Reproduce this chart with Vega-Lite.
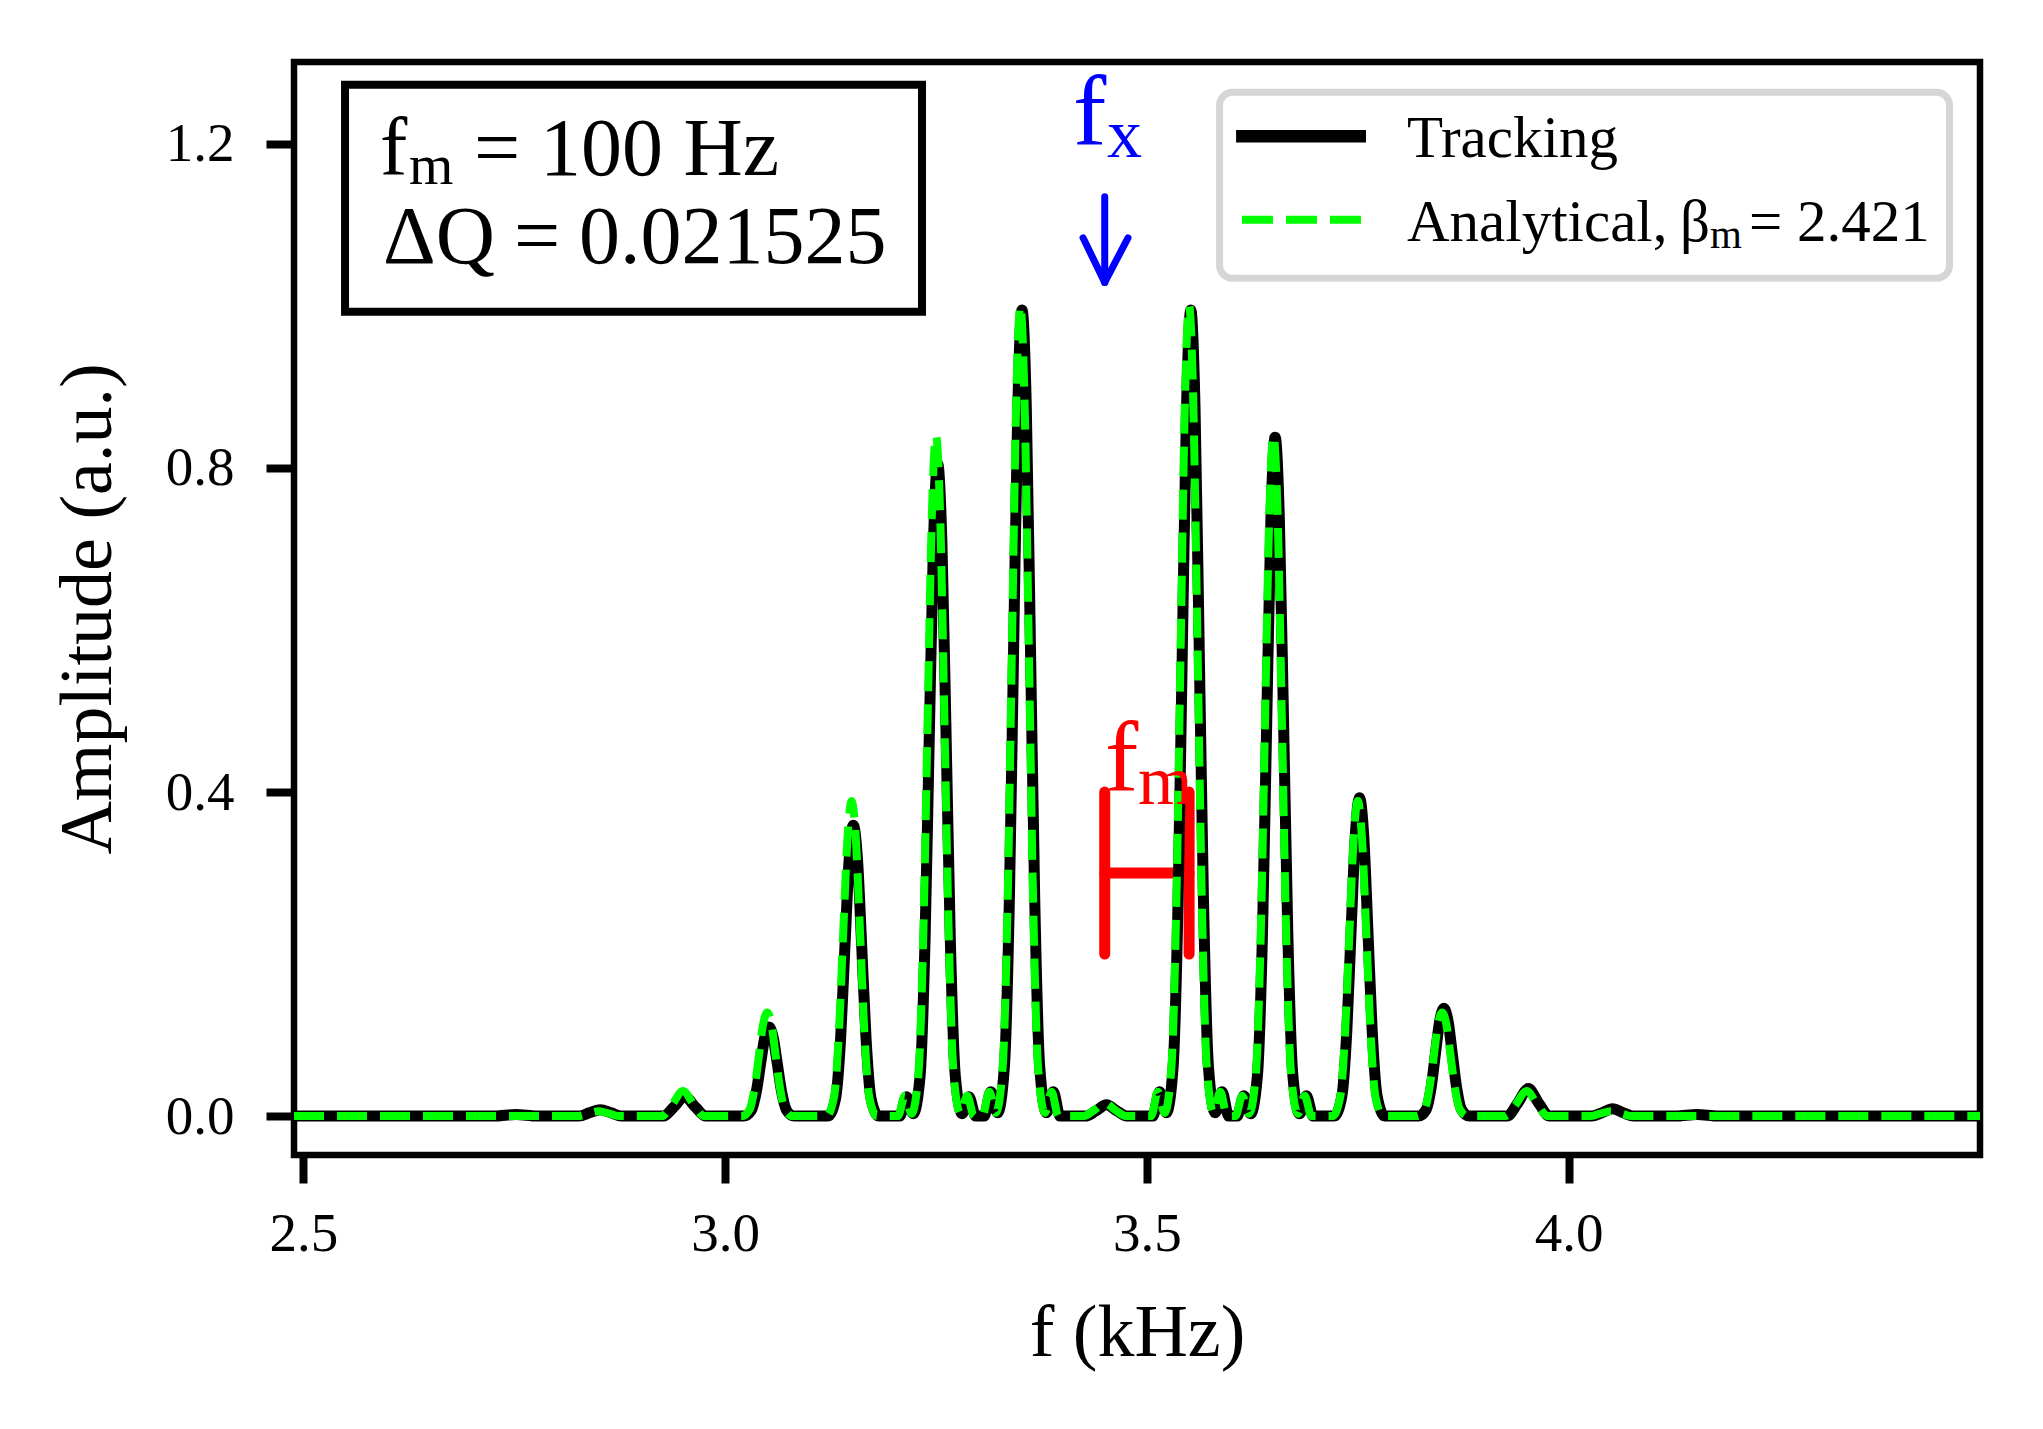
{
  "$schema": "https://vega.github.io/schema/vega-lite/v6.json",
  "width": 1686,
  "height": 1093,
  "autosize": {"type": "none"},
  "padding": {"left": 294, "top": 62, "right": 63, "bottom": 274},
  "background": "white",
  "config": {
    "view": {"stroke": "black", "strokeWidth": 6.5},
    "font": "Liberation Serif",
    "axis": {
      "domain": false, "grid": false, "tickColor": "black", "tickWidth": 8, "tickSize": 28,
      "labelFont": "Liberation Serif", "labelFontSize": 55, "labelColor": "black", "labelFlush": false,
      "titleFont": "Liberation Serif", "titleFontSize": 74, "titleFontWeight": "normal", "titleColor": "black"
    }
  },
  "datasets": {
    "tracking": [
      {"f": 2.489, "amp": 0},
      {"f": 2.727, "amp": 0}, {"f": 2.752, "amp": 0.002}, {"f": 2.777, "amp": 0},
      {"f": 2.827, "amp": 0}, {"f": 2.839, "amp": 0.004}, {"f": 2.852, "amp": 0.008}, {"f": 2.865, "amp": 0.004}, {"f": 2.877, "amp": 0},
      {"f": 2.927, "amp": 0}, {"f": 2.939, "amp": 0.011}, {"f": 2.952, "amp": 0.024}, {"f": 2.965, "amp": 0.011}, {"f": 2.977, "amp": 0},
      {"f": 3.022, "amp": 0}, {"f": 3.031, "amp": 0.007}, {"f": 3.037, "amp": 0.03}, {"f": 3.042, "amp": 0.064}, {"f": 3.047, "amp": 0.097}, {"f": 3.052, "amp": 0.11}, {"f": 3.057, "amp": 0.097}, {"f": 3.062, "amp": 0.064}, {"f": 3.067, "amp": 0.03}, {"f": 3.073, "amp": 0.007}, {"f": 3.082, "amp": 0},
      {"f": 3.122, "amp": 0}, {"f": 3.131, "amp": 0.022}, {"f": 3.137, "amp": 0.097}, {"f": 3.142, "amp": 0.208}, {"f": 3.147, "amp": 0.316}, {"f": 3.152, "amp": 0.359}, {"f": 3.157, "amp": 0.316}, {"f": 3.162, "amp": 0.208}, {"f": 3.167, "amp": 0.097}, {"f": 3.173, "amp": 0.022}, {"f": 3.182, "amp": 0},
      {"f": 3.207, "amp": 0}, {"f": 3.215, "amp": 0.024}, {"f": 3.223, "amp": 0.003}, {"f": 3.231, "amp": 0.048}, {"f": 3.237, "amp": 0.217}, {"f": 3.242, "amp": 0.467}, {"f": 3.247, "amp": 0.708}, {"f": 3.252, "amp": 0.805}, {"f": 3.257, "amp": 0.708}, {"f": 3.262, "amp": 0.467}, {"f": 3.267, "amp": 0.217}, {"f": 3.273, "amp": 0.048}, {"f": 3.281, "amp": 0.003}, {"f": 3.289, "amp": 0.024}, {"f": 3.297, "amp": 0},
      {"f": 3.307, "amp": 0}, {"f": 3.315, "amp": 0.03}, {"f": 3.323, "amp": 0.004}, {"f": 3.331, "amp": 0.06}, {"f": 3.337, "amp": 0.269}, {"f": 3.342, "amp": 0.577}, {"f": 3.347, "amp": 0.876}, {"f": 3.352, "amp": 0.995}, {"f": 3.357, "amp": 0.876}, {"f": 3.362, "amp": 0.577}, {"f": 3.367, "amp": 0.269}, {"f": 3.373, "amp": 0.06}, {"f": 3.381, "amp": 0.004}, {"f": 3.389, "amp": 0.03}, {"f": 3.397, "amp": 0},
      {"f": 3.427, "amp": 0}, {"f": 3.439, "amp": 0.006}, {"f": 3.452, "amp": 0.014}, {"f": 3.465, "amp": 0.006}, {"f": 3.477, "amp": 0},
      {"f": 3.507, "amp": 0}, {"f": 3.515, "amp": 0.03}, {"f": 3.523, "amp": 0.004}, {"f": 3.531, "amp": 0.06}, {"f": 3.537, "amp": 0.269}, {"f": 3.542, "amp": 0.577}, {"f": 3.547, "amp": 0.876}, {"f": 3.552, "amp": 0.995}, {"f": 3.557, "amp": 0.876}, {"f": 3.562, "amp": 0.577}, {"f": 3.567, "amp": 0.269}, {"f": 3.573, "amp": 0.06}, {"f": 3.581, "amp": 0.004}, {"f": 3.589, "amp": 0.03}, {"f": 3.597, "amp": 0},
      {"f": 3.607, "amp": 0}, {"f": 3.615, "amp": 0.025}, {"f": 3.623, "amp": 0.003}, {"f": 3.631, "amp": 0.05}, {"f": 3.637, "amp": 0.226}, {"f": 3.642, "amp": 0.486}, {"f": 3.647, "amp": 0.737}, {"f": 3.652, "amp": 0.838}, {"f": 3.657, "amp": 0.737}, {"f": 3.662, "amp": 0.486}, {"f": 3.667, "amp": 0.226}, {"f": 3.673, "amp": 0.05}, {"f": 3.681, "amp": 0.003}, {"f": 3.689, "amp": 0.025}, {"f": 3.697, "amp": 0},
      {"f": 3.722, "amp": 0}, {"f": 3.731, "amp": 0.024}, {"f": 3.737, "amp": 0.106}, {"f": 3.742, "amp": 0.228}, {"f": 3.747, "amp": 0.346}, {"f": 3.752, "amp": 0.393}, {"f": 3.757, "amp": 0.346}, {"f": 3.762, "amp": 0.228}, {"f": 3.767, "amp": 0.106}, {"f": 3.773, "amp": 0.024}, {"f": 3.782, "amp": 0},
      {"f": 3.822, "amp": 0}, {"f": 3.831, "amp": 0.008}, {"f": 3.837, "amp": 0.036}, {"f": 3.842, "amp": 0.077}, {"f": 3.847, "amp": 0.117}, {"f": 3.852, "amp": 0.133}, {"f": 3.857, "amp": 0.117}, {"f": 3.862, "amp": 0.077}, {"f": 3.867, "amp": 0.036}, {"f": 3.873, "amp": 0.008}, {"f": 3.882, "amp": 0},
      {"f": 3.927, "amp": 0}, {"f": 3.939, "amp": 0.015}, {"f": 3.952, "amp": 0.034}, {"f": 3.965, "amp": 0.015}, {"f": 3.977, "amp": 0},
      {"f": 4.027, "amp": 0}, {"f": 4.039, "amp": 0.004}, {"f": 4.052, "amp": 0.009}, {"f": 4.065, "amp": 0.004}, {"f": 4.077, "amp": 0},
      {"f": 4.127, "amp": 0}, {"f": 4.152, "amp": 0.002}, {"f": 4.177, "amp": 0},
      {"f": 4.4875, "amp": 0}
    ],
    "analytical": [
      {"f": 2.489, "amp": 0},
      {"f": 2.825, "amp": 0}, {"f": 2.837, "amp": 0.003}, {"f": 2.85, "amp": 0.006}, {"f": 2.863, "amp": 0.003}, {"f": 2.875, "amp": 0},
      {"f": 2.925, "amp": 0}, {"f": 2.937, "amp": 0.014}, {"f": 2.95, "amp": 0.031}, {"f": 2.963, "amp": 0.014}, {"f": 2.975, "amp": 0},
      {"f": 3.02, "amp": 0}, {"f": 3.029, "amp": 0.008}, {"f": 3.035, "amp": 0.035}, {"f": 3.04, "amp": 0.074}, {"f": 3.045, "amp": 0.113}, {"f": 3.05, "amp": 0.128}, {"f": 3.055, "amp": 0.113}, {"f": 3.06, "amp": 0.074}, {"f": 3.065, "amp": 0.035}, {"f": 3.071, "amp": 0.008}, {"f": 3.08, "amp": 0},
      {"f": 3.12, "amp": 0}, {"f": 3.129, "amp": 0.023}, {"f": 3.135, "amp": 0.105}, {"f": 3.14, "amp": 0.226}, {"f": 3.145, "amp": 0.342}, {"f": 3.15, "amp": 0.389}, {"f": 3.155, "amp": 0.342}, {"f": 3.16, "amp": 0.226}, {"f": 3.165, "amp": 0.105}, {"f": 3.171, "amp": 0.023}, {"f": 3.18, "amp": 0},
      {"f": 3.205, "amp": 0}, {"f": 3.213, "amp": 0.025}, {"f": 3.221, "amp": 0.003}, {"f": 3.229, "amp": 0.05}, {"f": 3.235, "amp": 0.227}, {"f": 3.24, "amp": 0.487}, {"f": 3.245, "amp": 0.739}, {"f": 3.25, "amp": 0.84}, {"f": 3.255, "amp": 0.739}, {"f": 3.26, "amp": 0.487}, {"f": 3.265, "amp": 0.227}, {"f": 3.271, "amp": 0.05}, {"f": 3.279, "amp": 0.003}, {"f": 3.287, "amp": 0.025}, {"f": 3.295, "amp": 0},
      {"f": 3.305, "amp": 0}, {"f": 3.313, "amp": 0.03}, {"f": 3.321, "amp": 0.004}, {"f": 3.329, "amp": 0.06}, {"f": 3.335, "amp": 0.27}, {"f": 3.34, "amp": 0.58}, {"f": 3.345, "amp": 0.88}, {"f": 3.35, "amp": 1.0}, {"f": 3.355, "amp": 0.88}, {"f": 3.36, "amp": 0.58}, {"f": 3.365, "amp": 0.27}, {"f": 3.371, "amp": 0.06}, {"f": 3.379, "amp": 0.004}, {"f": 3.387, "amp": 0.03}, {"f": 3.395, "amp": 0},
      {"f": 3.425, "amp": 0}, {"f": 3.437, "amp": 0.007}, {"f": 3.45, "amp": 0.016}, {"f": 3.463, "amp": 0.007}, {"f": 3.475, "amp": 0},
      {"f": 3.505, "amp": 0}, {"f": 3.513, "amp": 0.03}, {"f": 3.521, "amp": 0.004}, {"f": 3.529, "amp": 0.06}, {"f": 3.535, "amp": 0.27}, {"f": 3.54, "amp": 0.58}, {"f": 3.545, "amp": 0.88}, {"f": 3.55, "amp": 1.0}, {"f": 3.555, "amp": 0.88}, {"f": 3.56, "amp": 0.58}, {"f": 3.565, "amp": 0.27}, {"f": 3.571, "amp": 0.06}, {"f": 3.579, "amp": 0.004}, {"f": 3.587, "amp": 0.03}, {"f": 3.595, "amp": 0},
      {"f": 3.605, "amp": 0}, {"f": 3.613, "amp": 0.025}, {"f": 3.621, "amp": 0.003}, {"f": 3.629, "amp": 0.05}, {"f": 3.635, "amp": 0.227}, {"f": 3.64, "amp": 0.487}, {"f": 3.645, "amp": 0.739}, {"f": 3.65, "amp": 0.84}, {"f": 3.655, "amp": 0.739}, {"f": 3.66, "amp": 0.487}, {"f": 3.665, "amp": 0.227}, {"f": 3.671, "amp": 0.05}, {"f": 3.679, "amp": 0.003}, {"f": 3.687, "amp": 0.025}, {"f": 3.695, "amp": 0},
      {"f": 3.72, "amp": 0}, {"f": 3.729, "amp": 0.023}, {"f": 3.735, "amp": 0.105}, {"f": 3.74, "amp": 0.226}, {"f": 3.745, "amp": 0.342}, {"f": 3.75, "amp": 0.389}, {"f": 3.755, "amp": 0.342}, {"f": 3.76, "amp": 0.226}, {"f": 3.765, "amp": 0.105}, {"f": 3.771, "amp": 0.023}, {"f": 3.78, "amp": 0},
      {"f": 3.82, "amp": 0}, {"f": 3.829, "amp": 0.008}, {"f": 3.835, "amp": 0.035}, {"f": 3.84, "amp": 0.074}, {"f": 3.845, "amp": 0.113}, {"f": 3.85, "amp": 0.128}, {"f": 3.855, "amp": 0.113}, {"f": 3.86, "amp": 0.074}, {"f": 3.865, "amp": 0.035}, {"f": 3.871, "amp": 0.008}, {"f": 3.88, "amp": 0},
      {"f": 3.925, "amp": 0}, {"f": 3.937, "amp": 0.014}, {"f": 3.95, "amp": 0.031}, {"f": 3.963, "amp": 0.014}, {"f": 3.975, "amp": 0},
      {"f": 4.025, "amp": 0}, {"f": 4.037, "amp": 0.003}, {"f": 4.05, "amp": 0.006}, {"f": 4.063, "amp": 0.003}, {"f": 4.075, "amp": 0},
      {"f": 4.4875, "amp": 0}
    ]
  },
  "layer": [
    {
      "data": {"values": [
        {"x": 3.45, "x2": 3.45, "y": 0.2, "y2": 0.4},
        {"x": 3.55, "x2": 3.55, "y": 0.2, "y2": 0.4},
        {"x": 3.45, "x2": 3.55, "y": 0.3, "y2": 0.3}
      ]},
      "mark": {"type": "rule", "color": "#ff0000", "strokeWidth": 11, "strokeCap": "round"},
      "encoding": {
        "x": {
          "field": "x", "type": "quantitative",
          "scale": {"domain": [2.489, 4.4875], "nice": false, "zero": false},
          "axis": {"title": "f (kHz)", "values": [2.5, 3.0, 3.5, 4.0], "format": ".1f", "labelPadding": 24, "titleY": 200, "titleBaseline": "alphabetic"}
        },
        "x2": {"field": "x2"},
        "y": {
          "field": "y", "type": "quantitative",
          "scale": {"domain": [-0.048, 1.301], "nice": false, "zero": false},
          "axis": {"title": "Amplitude (a.u.)", "values": [0, 0.4, 0.8, 1.2], "format": ".1f", "labelPadding": 32, "titleX": -184, "titleBaseline": "alphabetic", "titleAngle": -90}
        },
        "y2": {"field": "y2"}
      }
    },
    {
      "data": {"name": "tracking"},
      "mark": {"type": "line", "color": "black", "strokeWidth": 11, "interpolate": "monotone", "strokeJoin": "round", "clip": true},
      "encoding": {
        "x": {"field": "f", "type": "quantitative"},
        "y": {"field": "amp", "type": "quantitative"}
      }
    },
    {
      "data": {"name": "analytical"},
      "mark": {"type": "line", "color": "#00ff00", "strokeWidth": 8, "strokeDash": [30, 13], "interpolate": "monotone", "clip": true},
      "encoding": {
        "x": {"field": "f", "type": "quantitative"},
        "y": {"field": "amp", "type": "quantitative"}
      }
    },
    {
      "data": {"values": [{"x": 2.5495, "x2": 3.2334, "y": 1.2728, "y2": 0.9926}]},
      "mark": {"type": "rect", "fill": "white", "stroke": "black", "strokeWidth": 8},
      "encoding": {
        "x": {"field": "x", "type": "quantitative"},
        "x2": {"field": "x2"},
        "y": {"field": "y", "type": "quantitative"},
        "y2": {"field": "y2"}
      }
    },
    {
      "data": {"values": [{"x": 3.5861, "x2": 4.4514, "y": 1.2636, "y2": 1.034}]},
      "mark": {"type": "rect", "fill": "white", "stroke": "#d6d6d6", "strokeWidth": 7, "cornerRadius": 13},
      "encoding": {
        "x": {"field": "x", "type": "quantitative"},
        "x2": {"field": "x2"},
        "y": {"field": "y", "type": "quantitative"},
        "y2": {"field": "y2"}
      }
    },
    {
      "data": {"values": [{"x": 3.6057, "x2": 3.7597, "y": 1.2093}]},
      "mark": {"type": "rule", "color": "black", "strokeWidth": 12.5},
      "encoding": {
        "x": {"field": "x", "type": "quantitative"},
        "x2": {"field": "x2"},
        "y": {"field": "y", "type": "quantitative"}
      }
    },
    {
      "data": {"values": [{"x": 3.6127, "x2": 3.7597, "y": 1.1062}]},
      "mark": {"type": "rule", "color": "#00ff00", "strokeWidth": 8, "strokeDash": [31, 13]},
      "encoding": {
        "x": {"field": "x", "type": "quantitative"},
        "x2": {"field": "x2"},
        "y": {"field": "y", "type": "quantitative"}
      }
    },
    {
      "data": {"values": [
        {"x": 3.45, "x2": 3.45, "y": 1.1346, "y2": 1.029},
        {"x": 3.4243, "x2": 3.45, "y": 1.084, "y2": 1.029},
        {"x": 3.4776, "x2": 3.45, "y": 1.084, "y2": 1.029}
      ]},
      "mark": {"type": "rule", "color": "#0000ff", "strokeWidth": 7, "strokeCap": "round"},
      "encoding": {
        "x": {"field": "x", "type": "quantitative"},
        "x2": {"field": "x2"},
        "y": {"field": "y", "type": "quantitative"},
        "y2": {"field": "y2"}
      }
    },
    {
      "data": {"values": [
        {"x": 2.5909, "y": 1.1617, "t": "f"},
        {"x": 2.7024, "y": 1.1617, "t": "="},
        {"x": 2.7806, "y": 1.1617, "t": "100 Hz"},
        {"x": 2.5945, "y": 1.0531, "t": "ΔQ"},
        {"x": 2.7498, "y": 1.0531, "t": "="},
        {"x": 2.8268, "y": 1.0531, "t": "0.021525"}
      ]},
      "mark": {"type": "text", "font": "Liberation Serif", "fontSize": 82, "align": "left", "baseline": "alphabetic", "color": "black"},
      "encoding": {
        "x": {"field": "x", "type": "quantitative"},
        "y": {"field": "y", "type": "quantitative"},
        "text": {"field": "t"}
      }
    },
    {
      "data": {"values": [{"x": 2.6253, "y": 1.1506, "t": "m"}]},
      "mark": {"type": "text", "font": "Liberation Serif", "fontSize": 57, "align": "left", "baseline": "alphabetic", "color": "black"},
      "encoding": {
        "x": {"field": "x", "type": "quantitative"},
        "y": {"field": "y", "type": "quantitative"},
        "text": {"field": "t"}
      }
    },
    {
      "data": {"values": [
        {"x": 3.8083, "y": 1.184, "t": "Tracking"},
        {"x": 3.8083, "y": 1.0802, "t": "Analytical,"},
        {"x": 4.132, "y": 1.0802, "t": "β"},
        {"x": 4.2138, "y": 1.0802, "t": "= 2.421"}
      ]},
      "mark": {"type": "text", "font": "Liberation Serif", "fontSize": 59, "align": "left", "baseline": "alphabetic", "color": "black"},
      "encoding": {
        "x": {"field": "x", "type": "quantitative"},
        "y": {"field": "y", "type": "quantitative"},
        "text": {"field": "t"}
      }
    },
    {
      "data": {"values": [{"x": 4.1675, "y": 1.0716, "t": "m"}]},
      "mark": {"type": "text", "font": "Liberation Serif", "fontSize": 41, "align": "left", "baseline": "alphabetic", "color": "black"},
      "encoding": {
        "x": {"field": "x", "type": "quantitative"},
        "y": {"field": "y", "type": "quantitative"},
        "text": {"field": "t"}
      }
    },
    {
      "data": {"values": [{"x": 3.4124, "y": 1.1988, "t": "f"}]},
      "mark": {"type": "text", "font": "Liberation Serif", "fontSize": 100, "align": "left", "baseline": "alphabetic", "color": "#0000ff"},
      "encoding": {
        "x": {"field": "x", "type": "quantitative"},
        "y": {"field": "y", "type": "quantitative"},
        "text": {"field": "t"}
      }
    },
    {
      "data": {"values": [{"x": 3.4527, "y": 1.184, "t": "x"}]},
      "mark": {"type": "text", "font": "Liberation Serif", "fontSize": 70, "align": "left", "baseline": "alphabetic", "color": "#0000ff"},
      "encoding": {
        "x": {"field": "x", "type": "quantitative"},
        "y": {"field": "y", "type": "quantitative"},
        "text": {"field": "t"}
      }
    },
    {
      "data": {"values": [{"x": 3.4503, "y": 0.4012, "t": "f"}]},
      "mark": {"type": "text", "font": "Liberation Serif", "fontSize": 100, "align": "left", "baseline": "alphabetic", "color": "#ff0000"},
      "encoding": {
        "x": {"field": "x", "type": "quantitative"},
        "y": {"field": "y", "type": "quantitative"},
        "text": {"field": "t"}
      }
    },
    {
      "data": {"values": [{"x": 3.4895, "y": 0.3852, "t": "m"}]},
      "mark": {"type": "text", "font": "Liberation Serif", "fontSize": 70, "align": "left", "baseline": "alphabetic", "color": "#ff0000"},
      "encoding": {
        "x": {"field": "x", "type": "quantitative"},
        "y": {"field": "y", "type": "quantitative"},
        "text": {"field": "t"}
      }
    }
  ]
}
